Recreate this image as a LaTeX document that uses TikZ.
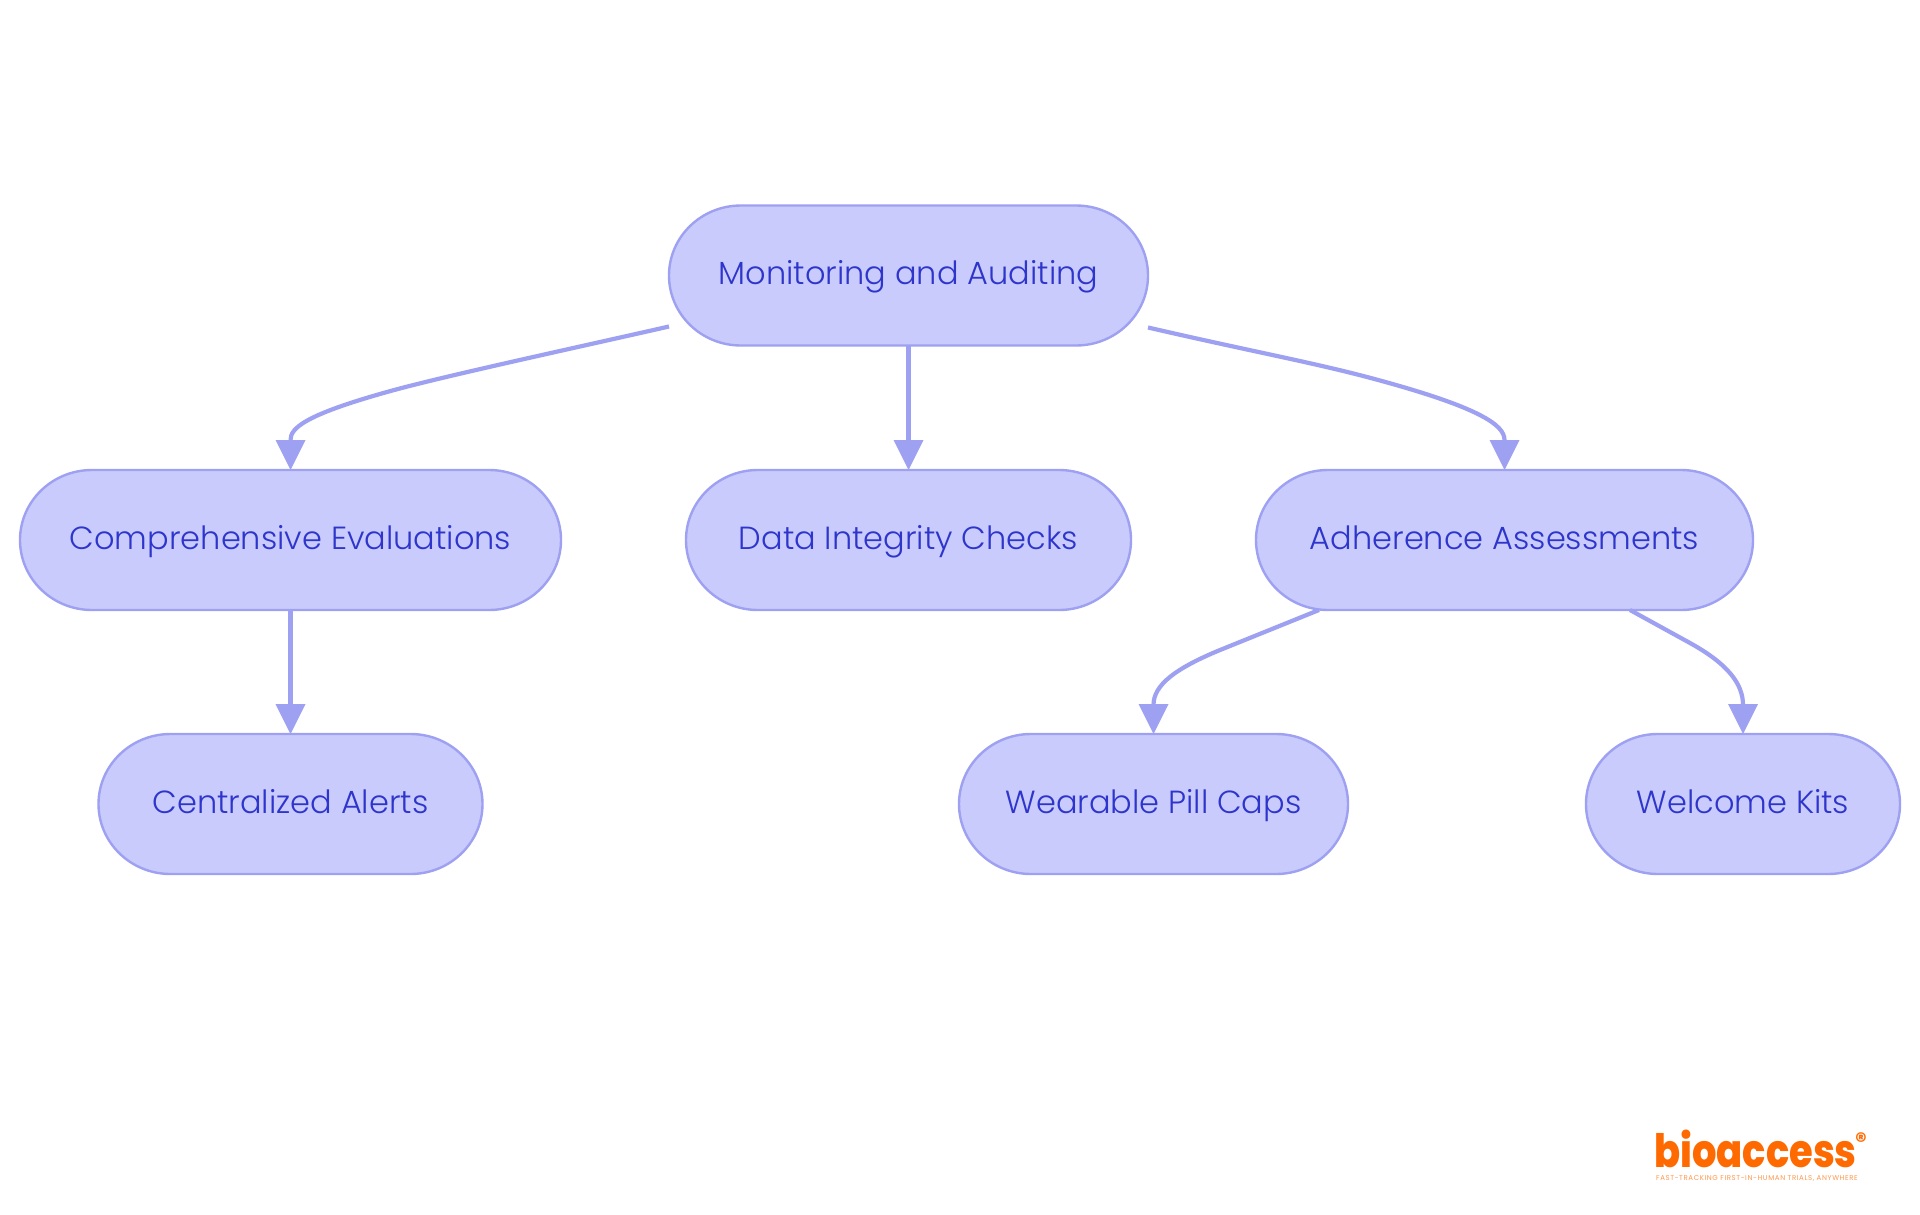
\documentclass[tikz,border=0pt]{standalone}
\usepackage{fontspec}
\setmainfont{Poppins}[UprightFont=* Light]
\newfontfamily\logofont{Poppins}[BoldFont=* ExtraBold]
\usetikzlibrary{arrows.meta,backgrounds}
\definecolor{nfill}{HTML}{C9CBFD}
\definecolor{nline}{HTML}{9EA1F2}
\definecolor{ntext}{HTML}{2E35CB}
\definecolor{logoc}{HTML}{FF6A00}
\tikzset{
  pill/.style={inner sep=0pt,outer sep=0pt,minimum height=140pt,
    text=ntext,font=\fontsize{32}{38}\selectfont,text height=25pt,text depth=6.5pt},
  pillshape/.style={draw=nline,fill=nfill,line width=2.4pt},
  conn/.style={draw=nline,line width=4.2pt,-{Triangle[length=30pt,width=30pt,line width=0pt]}}
}
\begin{document}
\begin{tikzpicture}[x=1pt,y=-1pt]
\useasboundingbox (0,0) rectangle (1920,1215);
\node[pill,minimum width=479pt] (root) at (908.5,275.5) {Monitoring and Auditing};
\node[pill,minimum width=541pt] (ce) at (290.5,540) {Comprehensive Evaluations};
\node[pill,minimum width=445pt] (di) at (908.5,540) {Data Integrity Checks};
\node[pill,minimum width=497pt] (aa) at (1504.5,540) {Adherence Assessments};
\node[pill,minimum width=384pt] (ca) at (290.5,804) {Centralized Alerts};
\node[pill,minimum width=389pt] (wp) at (1153.5,804) {Wearable Pill Caps};
\node[pill,minimum width=314pt] (wk) at (1743,804) {Welcome Kits};
\begin{scope}[on background layer]
\fill[white] (0,0) rectangle (1920,1215);
\foreach \n in {root,ce,di,aa,ca,wp,wk}{
  \draw[pillshape] ([xshift=72pt]\n.north west) -- ([xshift=-72pt]\n.north east)
    arc[start angle=90,end angle=0,x radius=72pt,y radius=70pt] -- ([yshift=70pt]\n.south east)
    arc[start angle=0,end angle=-90,x radius=72pt,y radius=70pt] -- ([xshift=72pt]\n.south west)
    arc[start angle=-90,end angle=-180,x radius=72pt,y radius=70pt] -- ([yshift=-70pt]\n.north west)
    arc[start angle=180,end angle=90,x radius=72pt,y radius=70pt] -- cycle;
}
\end{scope}
\draw[conn] ([yshift=19pt]root.south west) .. controls (570,349) and (440,377) .. (387,392) .. controls (305,415) and (290.5,428) .. (290.5,440) -- (ce.north);
\draw[conn] (root.south) -- (di.north);
\draw[conn] ([yshift=18pt]root.south east) .. controls (1250,351) and (1310,362) .. (1367,377) .. controls (1480,407) and (1504.5,425) .. (1504.5,440) -- (aa.north);
\draw[conn] (ce.south) -- (ca.north);
\draw[conn] ([xshift=63pt]aa.south west) -- ++(-94,38) .. controls +(-50,20) and (1153.5,685) .. (1153.5,705) -- (wp.north);
\draw[conn] ([xshift=-123pt]aa.south east) -- ++(60,33) .. controls +(38,21) and (1743,684) .. (1743,705) -- (wk.north);
\node[anchor=base west,inner sep=0pt,text=logoc,font=\logofont\bfseries\fontsize{46}{46}\selectfont] (logo) at (1654,1167) {\scalebox{0.835}[1]{bioaccess}};
\node[anchor=center,inner sep=0pt,text=logoc,font=\logofont\bfseries\fontsize{22}{22}\selectfont] (reg) at (1861,1141) {®};
\node[anchor=center,inner sep=0pt,text=logoc!70,font=\logofont\fontsize{7}{8}\selectfont\addfontfeature{LetterSpace=8.6}] (tag) at (1757,1179) {FAST-TRACKING FIRST-IN-HUMAN TRIALS, ANYWHERE};
\end{tikzpicture}
\end{document}
